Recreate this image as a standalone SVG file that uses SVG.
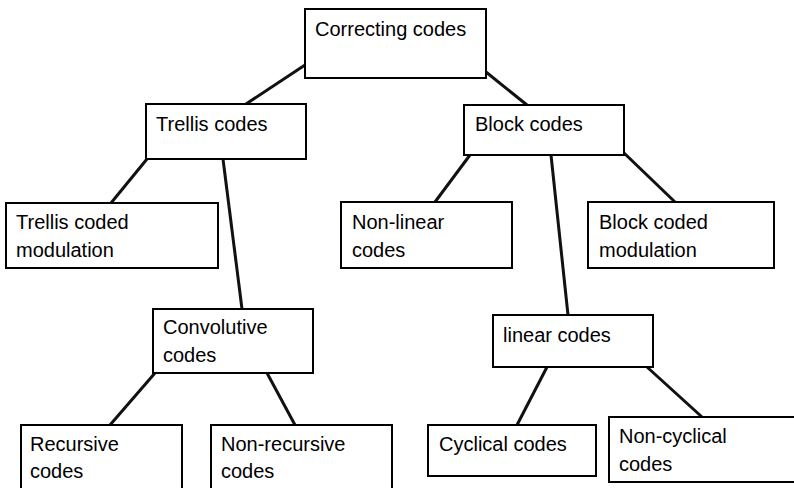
<svg xmlns="http://www.w3.org/2000/svg" width="794" height="488" viewBox="0 0 794 488">
<style>
.box{fill:#fff;stroke:#000;stroke-width:2}
.c{stroke:#111;stroke-width:3;fill:none}
text{font-family:"Liberation Sans",Arial,sans-serif;font-size:20px;fill:#000}
</style>
<rect width="794" height="488" fill="#fff"/>
<g id="connectors">
<line class="c" x1="305" y1="65" x2="246" y2="104"/>
<line class="c" x1="486" y1="72" x2="527" y2="105"/>
<line class="c" x1="147" y1="159" x2="111" y2="203"/>
<line class="c" x1="223" y1="159" x2="242" y2="309"/>
<line class="c" x1="155" y1="373" x2="110" y2="425"/>
<line class="c" x1="267" y1="373" x2="295" y2="425"/>
<line class="c" x1="470" y1="155" x2="435" y2="202"/>
<line class="c" x1="624" y1="153" x2="675" y2="202"/>
<line class="c" x1="551" y1="155" x2="568" y2="315"/>
<line class="c" x1="547" y1="367" x2="517" y2="425"/>
<line class="c" x1="647" y1="367" x2="702" y2="417"/>
</g>
<g id="correcting"><rect class="box" x="305" y="9" width="181" height="69"/><text x="315" y="36">Correcting codes</text></g>
<g id="trellis"><rect class="box" x="146" y="104" width="160" height="55"/><text x="156" y="131">Trellis codes</text></g>
<g id="block"><rect class="box" x="464" y="105" width="160" height="50"/><text x="475" y="131">Block codes</text></g>
<g id="tcm"><rect class="box" x="6" y="203" width="212" height="65"/><text x="16" y="229">Trellis coded</text><text x="16" y="257">modulation</text></g>
<g id="nonlinear"><rect class="box" x="341" y="202" width="171" height="66"/><text x="352" y="229">Non-linear</text><text x="352" y="257">codes</text></g>
<g id="bcm"><rect class="box" x="588" y="202" width="186" height="66"/><text x="599" y="229">Block coded</text><text x="599" y="257">modulation</text></g>
<g id="convolutive"><rect class="box" x="153" y="309" width="160" height="64"/><text x="163" y="334">Convolutive</text><text x="163" y="362">codes</text></g>
<g id="linear"><rect class="box" x="493" y="315" width="160" height="52"/><text x="503" y="342">linear codes</text></g>
<g id="recursive"><rect class="box" x="21" y="425" width="161" height="70"/><text x="30" y="451">Recursive</text><text x="30" y="478">codes</text></g>
<g id="nonrecursive"><rect class="box" x="211" y="425" width="181" height="70"/><text x="221" y="451">Non-recursive</text><text x="221" y="478">codes</text></g>
<g id="cyclical"><rect class="box" x="428" y="425" width="168" height="51"/><text x="439" y="451">Cyclical codes</text></g>
<g id="noncyclical"><rect class="box" x="609" y="417" width="195" height="65"/><text x="619" y="443">Non-cyclical</text><text x="619" y="471">codes</text></g>
</svg>
